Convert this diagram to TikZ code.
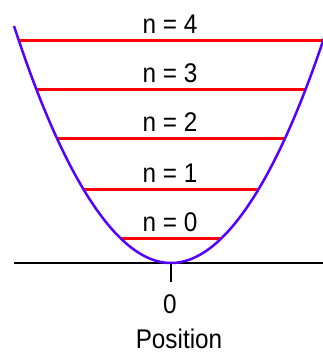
\documentclass[tikz,border=0pt]{standalone}
\usepackage{fontspec}
\setmainfont{Liberation Sans}
\newfontfamily\labfont[FakeStretch=0.9]{Liberation Sans}
\begin{document}
\begin{tikzpicture}[x=1bp,y=-1bp,
  level/.style={draw=red,line width=3bp},
  pot/.style={draw={rgb,255:red,85;green,0;blue,255},line width=2.5bp},
  axis/.style={draw=black,line width=1.8bp},
  lab/.style={font=\labfont\fontsize{27bp}{30bp}\selectfont,inner sep=0pt,anchor=base}]
\useasboundingbox (0,0) rectangle (323,353);
% axis
\coordinate (al) at (14,263);
\coordinate (ar) at (323,263);
\coordinate (o) at (171,263);
\coordinate (t) at (171,282);
\draw[axis] (al) -- (ar);
\draw[axis] (o) -- (t);
% levels
\foreach \n/\y/\hw in {0/238/50.9,1/189/87.6,2/138/113.8,3/89/134.3,4/40/152} {
  \coordinate (l\n) at (171-\hw,\y);
  \coordinate (r\n) at (171+\hw,\y);
  \draw[level] (l\n) -- (r\n);
  \node[lab] (t\n) at (170,\y-7) {n = \n};
}
% potential
\begin{scope}
\clip (0,0) rectangle (323,353);
\coordinate (pl) at (14,26);
\coordinate (pr) at (328,26);
\draw[pot] (pl) parabola bend (o) (pr);
\end{scope}
\node[lab] (zero) at (170,313) {0};
\node[lab] (pos) at (179,348) {Position};
\end{tikzpicture}
\end{document}
